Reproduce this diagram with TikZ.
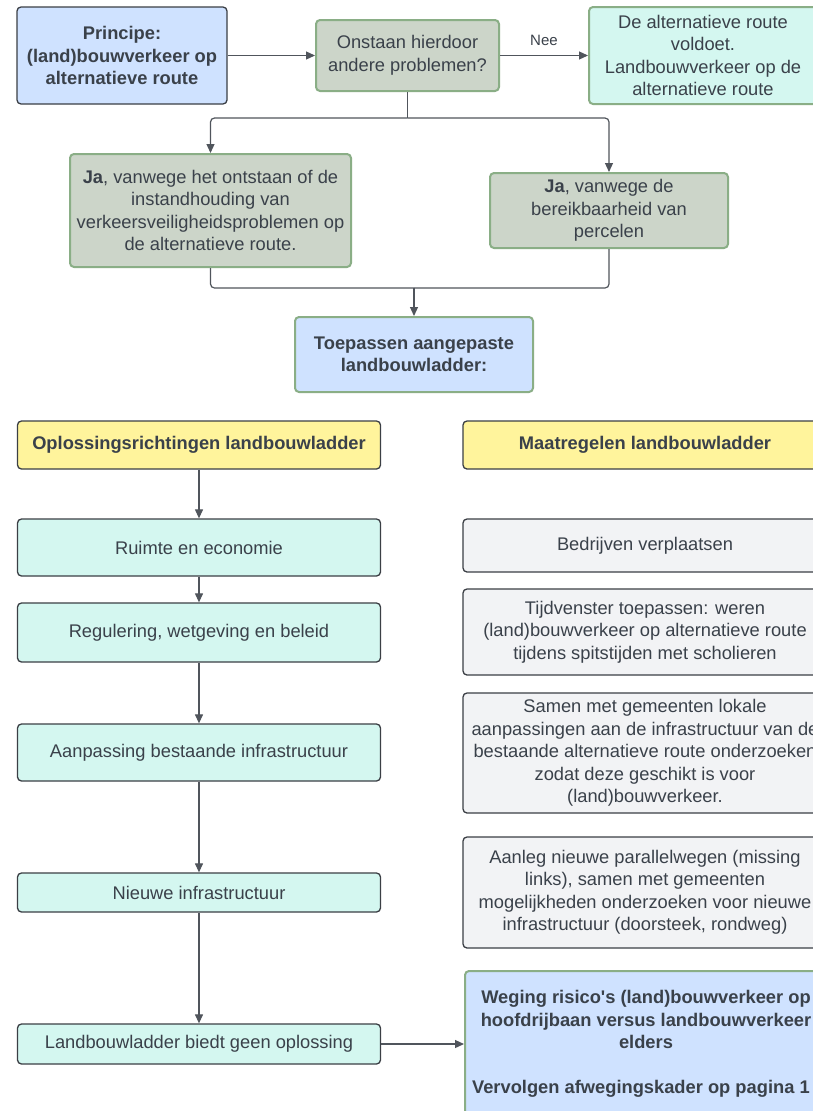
\documentclass[tikz,border=0pt]{standalone}
\usepackage{fontspec}
\setmainfont{Liberation Sans}[Ligatures=TeXOff]
\usetikzlibrary{arrows.meta}

\definecolor{txt}{HTML}{3A414A}
\definecolor{dk}{HTML}{3B3F45}
\definecolor{grn}{HTML}{8AAE86}
\definecolor{blu}{HTML}{CFE2FF}
\definecolor{sage}{HTML}{CCD5C9}
\definecolor{mint}{HTML}{D4F7F0}
\definecolor{yel}{HTML}{FFF49C}
\definecolor{gry}{HTML}{F2F3F5}
\definecolor{ln}{HTML}{50555C}

\tikzset{
  box/.style={rounded corners=4pt, line width=1.3pt, align=center, inner sep=0pt,
    text=txt, font=\fontsize{18.3}{22.5}\selectfont},
  darkbox/.style={box, draw=dk},
  greenbox/.style={box, draw=grn, line width=2pt},
  conn/.style={draw=ln, line width=1.2pt},
  arr/.style={conn, -{Triangle[length=9pt,width=8pt]}},
  lbl/.style={text=txt, font=\fontsize{15}{18}\selectfont, inner sep=0pt},
}

\begin{document}
\begin{tikzpicture}[x=1pt, y=-1pt]
\useasboundingbox (0,0) rectangle (813,1111);
\fill[white] (0,0) rectangle (813,1111);
\clip (0,0) rectangle (813,1111);

% top row
\node[darkbox, fill=blu, minimum width=210, minimum height=97] (princ) at (122,55.5)
  {\bfseries Principe:\\\bfseries (land)bouwverkeer op\\\bfseries alternatieve route};
\node[greenbox, fill=sage, minimum width=183, minimum height=71] (q) at (407.5,55.5)
  {Onstaan hierdoor\\andere problemen?};
\node[greenbox, fill=mint, minimum width=228, minimum height=97] (alt) at (703,55.5)
  {De alternatieve route\\voldoet.\\Landbouwverkeer op de\\alternatieve route};

% the two "Ja" branches
\node[greenbox, fill=sage, minimum width=281, minimum height=113] (ja1) at (210.5,210.5)
  {\textbf{Ja}, vanwege het ontstaan of de\\instandhouding van\\verkeersveiligheidsproblemen op\\de alternatieve route.};
\node[greenbox, fill=sage, minimum width=238, minimum height=75] (ja2) at (609,210.5)
  {\textbf{Ja}, vanwege de\\bereikbaarheid van\\percelen};

\node[greenbox, fill=blu, minimum width=238, minimum height=75] (toep) at (414,354.5)
  {\bfseries Toepassen aangepaste\\\bfseries landbouwladder:};

% column headers
\node[darkbox, fill=yel, minimum width=363, minimum height=48] (opl) at (199,445)
  {\bfseries Oplossingsrichtingen landbouwladder};
\node[darkbox, fill=yel, minimum width=364, minimum height=48] (maat) at (645,445)
  {\bfseries Maatregelen landbouwladder};

% left column: solution directions
\node[darkbox, fill=mint, minimum width=363, minimum height=57] (ruimte) at (199,547.5)
  {Ruimte en economie};
\node[darkbox, fill=mint, minimum width=363, minimum height=59] (regul) at (199,632.5)
  {Regulering, wetgeving en beleid};
\node[darkbox, fill=mint, minimum width=363, minimum height=57] (aanp) at (199,752.5)
  {Aanpassing bestaande infrastructuur};
\node[darkbox, fill=mint, minimum width=363, minimum height=39] (nieuw) at (199,892.5)
  {Nieuwe infrastructuur};
\node[darkbox, fill=mint, minimum width=363, minimum height=40] (geen) at (199,1044)
  {Landbouwladder biedt geen oplossing};

% right column: measures
\node[darkbox, fill=gry, minimum width=364, minimum height=53] (bedr) at (645,545.5)
  {Bedrijven verplaatsen};
\node[darkbox, fill=gry, minimum width=364, minimum height=86] (tijd) at (645,632)
  {Tijdvenster toepassen: weren\\(land)bouwverkeer op alternatieve route\\tijdens spitstijden met scholieren};
\node[darkbox, fill=gry, minimum width=364, minimum height=120] (samen) at (645,753)
  {Samen met gemeenten lokale\\aanpassingen aan de infrastructuur van de\\bestaande alternatieve route onderzoeken\\zodat deze geschikt is voor\\(land)bouwverkeer.};
\node[darkbox, fill=gry, minimum width=364, minimum height=111] (aanleg) at (645,892.5)
  {Aanleg nieuwe parallelwegen (missing\\links), samen met gemeenten\\mogelijkheden onderzoeken voor nieuwe\\infrastructuur (doorsteek, rondweg)};
\node[greenbox, fill=blu, minimum width=362, minimum height=146] (weg) at (646,1044)
  {\bfseries Weging risico's (land)bouwverkeer op\\\bfseries hoofdrijbaan versus landbouwverkeer\\\bfseries elders\\[22.5pt]\bfseries Vervolgen afwegingskader op pagina 1\phantom{1}};

% connectors
\draw[arr] (princ.east) -- (q.west);
\draw[arr] (q.east) -- node[lbl, above=9pt] {Nee} (alt.west);
\coordinate (split) at (407.5,118);
\draw[conn] (q.south) -- (split);
\draw[arr, rounded corners=4pt] (split) -| (ja1.north);
\draw[arr, rounded corners=4pt] (split) -| (ja2.north);
\coordinate (merge) at (414,288);
\draw[conn, rounded corners=4pt] (ja1.south) |- (merge);
\draw[conn, rounded corners=4pt] (ja2.south) |- (merge);
\draw[arr] (merge) -- (toep.north);

\draw[arr] (opl.south) -- (ruimte.north);
\draw[arr] (ruimte.south) -- (regul.north);
\draw[arr] (regul.south) -- (aanp.north);
\draw[arr] (aanp.south) -- (nieuw.north);
\draw[arr] (nieuw.south) -- (geen.north);
\draw[arr] (geen.east) -- (weg.west);
\end{tikzpicture}
\end{document}
